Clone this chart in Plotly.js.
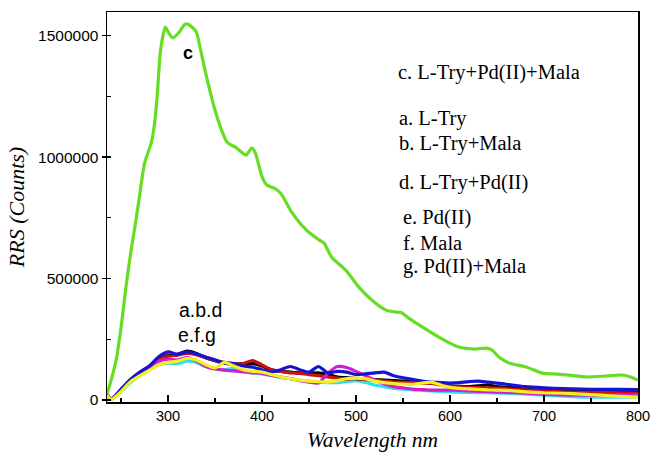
<!DOCTYPE html>
<html>
<head>
<meta charset="utf-8">
<script src="https://cdn.plot.ly/plotly-3.0.1.min.js"></script>
<style>html,body{margin:0;padding:0;background:#fff;}#chart{width:654px;height:454px;}</style>
</head>
<body>
<div id="chart"></div>
<script>
// Wavelength grid (nm) for the six low curves
var wlLow = [235,240,250,260,270,280,290,300,310,320,330,340,350,360,370,380,390,400,410,420,430,440,450,460,470,480,490,500,510,520,530,540,550,560,570,580,590,600,610,620,630,640,650,660,680,700,720,740,760,780,800];

var blueY = [20000,5000,45000,85000,115000,140000,178000,198000,188000,198000,190000,177000,166000,152000,150000,140000,135000,125000,115000,125000,138000,125000,115000,138000,112000,118000,115000,105000,108000,112000,115000,100000,92000,85000,78000,74000,72000,70000,72000,76000,78000,74000,70000,65000,55000,50000,47000,45000,44000,44000,43000];
var blackY = [22000,5000,42000,82000,112000,138000,170000,183000,188000,201000,192000,174000,162000,152000,148000,150000,150000,140000,125000,118000,115000,112000,110000,112000,105000,95000,92000,88000,86000,84000,82000,80000,78000,76000,76000,72000,65000,58000,56000,55000,58000,62000,55000,52000,48000,45000,41000,38000,36000,34000,33000];
var redY = [22000,5000,42000,82000,112000,136000,166000,180000,185000,192000,187000,174000,163000,155000,150000,150000,162000,145000,125000,118000,112000,110000,105000,100000,95000,90000,86000,88000,84000,82000,78000,74000,73000,72000,70000,68000,62000,56000,54000,52000,51000,50000,49000,47000,42000,38000,34000,32000,31000,30000,29000];
var magentaY = [20000,5000,38000,78000,108000,130000,160000,168000,165000,175000,162000,138000,128000,123000,120000,116000,112000,110000,102000,95000,88000,80000,74000,70000,110000,138000,134000,118000,100000,82000,66000,55000,50000,45000,43000,41000,41000,41000,40000,38000,36000,35000,33000,32000,28000,24000,21000,20000,20000,21000,21000];
var cyanY = [18000,4000,35000,72000,100000,125000,145000,152000,150000,160000,155000,138000,128000,125000,130000,120000,112000,108000,100000,92000,88000,82000,78000,74000,72000,72000,76000,80000,72000,62000,55000,48000,45000,42000,40000,38000,36000,34000,32000,31000,30000,30000,29000,28000,24000,20000,16000,12000,12000,12000,12000];
var yellowY = [20000,3000,35000,75000,100000,122000,145000,155000,160000,172000,165000,145000,132000,155000,140000,125000,118000,115000,105000,95000,88000,82000,78000,76000,74000,80000,88000,90000,88000,78000,72000,68000,66000,65000,70000,74000,62000,52000,48000,46000,44000,42000,41000,40000,34000,30000,28000,24000,20000,15000,12000];

// Green curve (c. L-Try+Pd(II)+Mala)
var wlGreen = [235,240,245,250,255,260,265,269,275,282,285,288,292,297,300,305,312,318,323,330,333,340,349,357,363,372,383,389,393,400,405,413,420,432,447,461,466,474,489,503,517,532,542,548,556,567,588,609,627,639,645,652,663,681,698,716,745,766,783,792,800];
var greenY = [25000,90000,170000,300000,460000,600000,720000,823000,975000,1057000,1120000,1230000,1440000,1535000,1515000,1490000,1515000,1547000,1543000,1515000,1470000,1345000,1206000,1110000,1060000,1040000,1008000,1037000,1016000,918000,885000,872000,850000,770000,700000,658000,646000,588000,535000,465000,411000,370000,362000,360000,337000,309000,259000,218000,210000,214000,205000,177000,152000,136000,111000,107000,95000,99000,103000,95000,82000];

var seriesNames = ['f','a','b','e','d','g','c'];
var xTicks = [300,400,500,600,700,800];
var yTicks = [0,500000,1000000,1500000];
var yTickText = ['0','500000','1000000','1500000'];

var legendLines = ['c. L-Try+Pd(II)+Mala','a. L-Try','b. L-Try+Mala','d. L-Try+Pd(II)','e. Pd(II)','f. Mala','g. Pd(II)+Mala'];

function tr(x, y, color, name) {
  return {x: x, y: y, type: 'scatter', mode: 'lines', name: name,
    line: {color: color, width: 3.2, shape: 'spline', smoothing: 0.6}, showlegend: false, hoverinfo: 'skip'};
}

var data = [
  tr(wlLow, cyanY, '#30e0f0', seriesNames[0]),
  tr(wlLow, blackY, '#000000', seriesNames[1]),
  tr(wlLow, redY, '#cc1111', seriesNames[2]),
  tr(wlLow, magentaY, '#d01ed0', seriesNames[3]),
  tr(wlLow, blueY, '#1414d2', seriesNames[4]),
  tr(wlLow, yellowY, '#f2f021', seriesNames[5]),
  tr(wlGreen, greenY, '#66dd22', seriesNames[6])
];

var legY = [0.8436, 0.7282, 0.6641, 0.5641, 0.4718, 0.4077, 0.3462];
var legX = [0.544, 0.546, 0.546, 0.546, 0.554, 0.554, 0.554];
var annotations = [];
for (var i = 0; i < legendLines.length; i++) {
  annotations.push({xref: 'paper', yref: 'paper', x: legX[i], y: legY[i], xanchor: 'left', yanchor: 'middle',
    text: legendLines[i], showarrow: false, font: {family: 'Liberation Serif, Times New Roman, serif', size: 20.5, color: '#000'}});
}
annotations.push({xref: 'x', yref: 'y', x: 321, y: 1428000, text: '<b>c</b>', showarrow: false,
  font: {family: 'Liberation Sans, Arial, sans-serif', size: 18, color: '#000'}});
annotations.push({xref: 'x', yref: 'y', x: 334, y: 370000, text: 'a.b.d', showarrow: false,
  font: {family: 'Liberation Sans, Arial, sans-serif', size: 19.5, color: '#000'}});
annotations.push({xref: 'x', yref: 'y', x: 331, y: 268000, text: 'e.f.g', showarrow: false,
  font: {family: 'Liberation Sans, Arial, sans-serif', size: 19.5, color: '#000'}});

var layout = {
  width: 654, height: 454,
  margin: {l: 107, r: 16, t: 12, b: 52, pad: 0},
  paper_bgcolor: '#fff', plot_bgcolor: '#fff',
  showlegend: false,
  xaxis: {
    range: [235, 800], tickvals: xTicks, ticktext: xTicks.map(String),
    ticks: 'inside', ticklen: 7, tickwidth: 1.3, tickcolor: '#000',
    minor: {dtick: 50, tick0: 250, ticks: 'inside', ticklen: 4, tickwidth: 1.3, tickcolor: '#000'},
    showline: true, linecolor: '#000', linewidth: 1.5, mirror: true,
    showgrid: false, zeroline: false,
    tickfont: {family: 'Liberation Sans, Arial, sans-serif', size: 14.5, color: '#000'},
    title: {text: 'Wavelength nm', standoff: 9, font: {family: 'Liberation Serif, Times New Roman, serif', size: 21.5, color: '#000', style: 'italic'}}
  },
  yaxis: {
    range: [-8000, 1597000], tickvals: yTicks, ticktext: yTickText,
    ticks: 'outside', ticklen: 4, tickwidth: 1.3, tickcolor: '#000',
    minor: {dtick: 250000, tick0: 0, ticks: 'inside', ticklen: 4, tickwidth: 1.3, tickcolor: '#000'},
    showline: true, linecolor: '#000', linewidth: 1.5, mirror: true,
    showgrid: false, zeroline: false,
    tickfont: {family: 'Liberation Sans, Arial, sans-serif', size: 15.5, color: '#000'},
    title: {text: 'RRS (Counts)', standoff: 7, font: {family: 'Liberation Serif, Times New Roman, serif', size: 22, color: '#000', style: 'italic'}}
  },
  annotations: annotations
};

Plotly.newPlot('chart', data, layout, {staticPlot: true, displayModeBar: false});
</script>
</body>
</html>
